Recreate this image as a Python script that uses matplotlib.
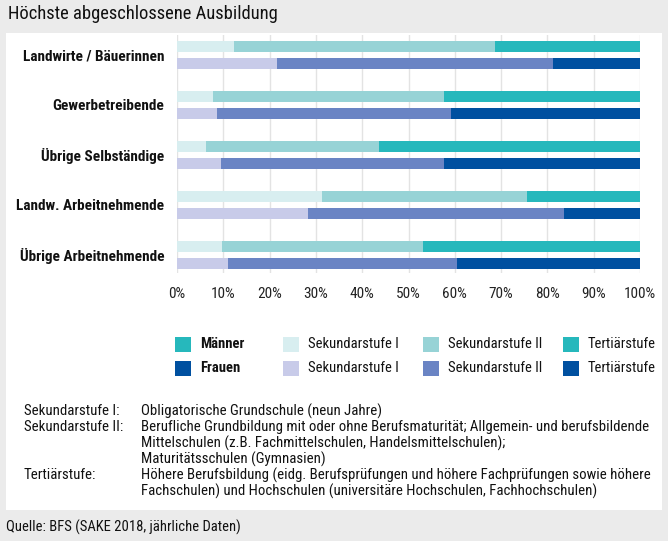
import matplotlib.pyplot as plt
import matplotlib.font_manager as fm
from matplotlib.patches import Rectangle

# schmale Schrift suchen (Original nutzt eine Condensed-Schrift)
vorhanden = {f.name for f in fm.fontManager.ttflist}
schrift = None
for kandidat in ["Roboto Condensed", "Liberation Sans Narrow", "Open Sans Condensed",
                 "Noto Sans Condensed", "DejaVu Sans Condensed"]:
    if kandidat in vorhanden:
        schrift = kandidat
        break
if schrift is None:
    schrift = "DejaVu Sans"
    if any(f.name == "DejaVu Sans" and f.stretch == "condensed" for f in fm.fontManager.ttflist):
        plt.rcParams['font.stretch'] = "condensed"

plt.rcParams['font.family'] = [schrift, 'DejaVu Sans']

# ==========================================
# DATEN (Anteile in %)
# ==========================================

kategorien = [
    "Landwirte / Bäuerinnen",
    "Gewerbetreibende",
    "Übrige Selbständige",
    "Landw. Arbeitnehmende",
    "Übrige Arbeitnehmende",
]

stufen = ["Sekundarstufe I", "Sekundarstufe II", "Tertiärstufe"]

maenner_sek1 = [12.3, 7.8, 6.2, 31.4, 9.8]
maenner_sek2 = [56.3, 49.8, 37.4, 44.2, 43.3]
maenner_tert = [31.4, 42.4, 56.4, 24.4, 46.9]

frauen_sek1 = [21.6, 8.6, 9.4, 28.2, 11.0]
frauen_sek2 = [59.6, 50.6, 48.2, 55.4, 49.4]
frauen_tert = [18.8, 40.8, 42.4, 16.4, 39.6]

farben_maenner = ["#d8eef0", "#97d3d6", "#26b8bc"]
farben_frauen = ["#c8cbe9", "#6a84c4", "#0050a0"]

# ==========================================
# FIGUR
# ==========================================

W, H = 668, 541
fig = plt.figure(figsize=(W / 100, H / 100), dpi=100)
fig.patch.set_facecolor("#ebebeb")


def fx(px):
    return px / W


def fy(py):
    return 1 - py / H


# weisses Panel
fig.patches.append(Rectangle((fx(6), fy(510)), fx(656), (510 - 33) / H,
                             transform=fig.transFigure, facecolor="white",
                             edgecolor="none", zorder=-5))

ax = fig.add_axes([fx(177), fy(273), fx(640) - fx(177), (273 - 35) / H])
ax.set_facecolor("white")

pos = list(range(len(kategorien)))
pos_m = [p - 0.165 for p in pos]
pos_f = [p + 0.165 for p in pos]
hoehe = 0.22

links = [0] * len(kategorien)
for werte, farbe in zip([maenner_sek1, maenner_sek2, maenner_tert], farben_maenner):
    ax.barh(pos_m, werte, left=links, height=hoehe, color=farbe, zorder=3)
    links = [a + b for a, b in zip(links, werte)]

links = [0] * len(kategorien)
for werte, farbe in zip([frauen_sek1, frauen_sek2, frauen_tert], farben_frauen):
    ax.barh(pos_f, werte, left=links, height=hoehe, color=farbe, zorder=3)
    links = [a + b for a, b in zip(links, werte)]

ax.set_xlim(0, 100)
ax.set_ylim(4.36, -0.4)
ax.set_xticks(range(0, 101, 10))
ax.set_xticklabels([f"{t}%" for t in range(0, 101, 10)], fontsize=11, color="#222222")
ax.set_yticks(pos)
ax.set_yticklabels(kategorien, fontsize=11, fontweight="bold", color="#111111")
ax.tick_params(axis="both", length=0)
ax.tick_params(axis="x", pad=10)
ax.tick_params(axis="y", pad=9)
ax.grid(axis="x", color="#e3e3e3", linewidth=1, zorder=0)
for s in ax.spines.values():
    s.set_visible(False)

# ==========================================
# LEGENDE
# ==========================================

leg_x = [175, 283, 423, 563]
leg_y = [344.5, 368]
spalten = [
    (["Männer", "Frauen"], [farben_maenner[2], farben_frauen[2]], "bold"),
    ([stufen[0], stufen[0]], [farben_maenner[0], farben_frauen[0]], "normal"),
    ([stufen[1], stufen[1]], [farben_maenner[1], farben_frauen[1]], "normal"),
    ([stufen[2], stufen[2]], [farben_maenner[2], farben_frauen[2]], "normal"),
]
for x, (texte, farben, gewicht) in zip(leg_x, spalten):
    for y, t, c in zip(leg_y, texte, farben):
        fig.patches.append(Rectangle((fx(x), fy(y + 7.5)), 16 / W, 15 / H,
                                     transform=fig.transFigure, facecolor=c,
                                     edgecolor="none"))
        fig.text(fx(x + 25), fy(y), t, fontsize=10.5, fontweight=gewicht,
                 va="center", ha="left", color="#111111")

# ==========================================
# ERKLAERUNGEN
# ==========================================

begriffe = ["Sekundarstufe I:", "Sekundarstufe II:", "", "", "Tertiärstufe:", ""]
erklaerungen = [
    "Obligatorische Grundschule (neun Jahre)",
    "Berufliche Grundbildung mit oder ohne Berufsmaturität; Allgemein- und berufsbildende",
    "Mittelschulen (z.B. Fachmittelschulen, Handelsmittelschulen);",
    "Maturitätsschulen (Gymnasien)",
    "Höhere Berufsbildung (eidg. Berufsprüfungen und höhere Fachprüfungen sowie höhere",
    "Fachschulen) und Hochschulen (universitäre Hochschulen, Fachhochschulen)",
]
for i, (b, e) in enumerate(zip(begriffe, erklaerungen)):
    y = 411 + i * 16
    fig.text(fx(24), fy(y), b, fontsize=10.7, va="center", ha="left", color="#111111")
    fig.text(fx(141), fy(y), e, fontsize=10.7, va="center", ha="left", color="#111111")

fig.text(fx(8), fy(14), "Höchste abgeschlossene Ausbildung", fontsize=13.3,
         va="center", ha="left", color="#111111")
fig.text(fx(6), fy(527), "Quelle: BFS (SAKE 2018, jährliche Daten)", fontsize=10.5,
         va="center", ha="left", color="#111111")

fig.savefig("out.png", dpi=100, facecolor=fig.get_facecolor())
